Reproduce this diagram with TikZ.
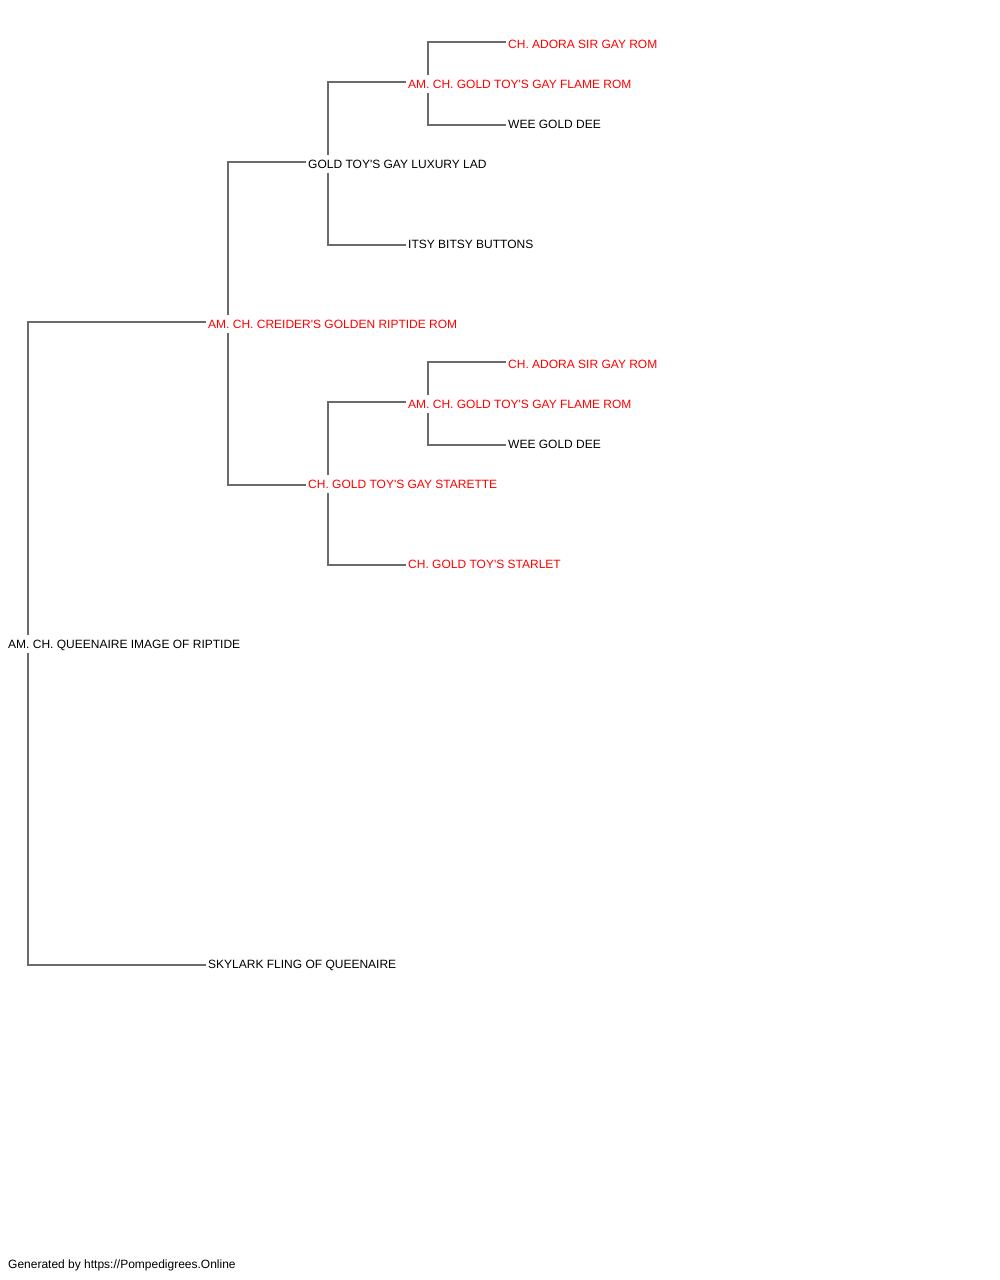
\documentclass[tikz,border=0pt]{standalone}
\usepackage{fontspec}
\setmainfont{Liberation Sans}
\usetikzlibrary{backgrounds}
\newcommand{\ap}{\textquotesingle}
\begin{document}
\begin{tikzpicture}[x=1pt,y=-1pt,
  lbl/.style={anchor=west,fill=white,inner xsep=2pt,inner ysep=0pt,minimum height=18pt,
    text height=8.6pt,text depth=0pt,font=\fontsize{12}{14}\selectfont,text=black},
  redlbl/.style={lbl,text=red},
  conn/.style={draw=black!58,line width=1.1pt}]
\useasboundingbox (0,0) rectangle (1000,1280);
% nodes
\node[lbl] (r) at (6,644) {AM. CH. QUEENAIRE IMAGE OF RIPTIDE};
\node[redlbl] (s) at (206,324) {AM. CH. CREIDER\ap S GOLDEN RIPTIDE ROM};
\node[lbl] (d) at (206,964) {SKYLARK FLING OF QUEENAIRE};
\node[lbl] (ss) at (306,164) {GOLD TOY\ap S GAY LUXURY LAD};
\node[redlbl] (sd) at (306,484) {CH. GOLD TOY\ap S GAY STARETTE};
\node[redlbl] (sss) at (406,84) {AM. CH. GOLD TOY\ap S GAY FLAME ROM};
\node[lbl] (ssd) at (406,244) {ITSY BITSY BUTTONS};
\node[redlbl] (sds) at (406,404) {AM. CH. GOLD TOY\ap S GAY FLAME ROM};
\node[redlbl] (sdd) at (406,564) {CH. GOLD TOY\ap S STARLET};
\node[redlbl] (ssss) at (506,44) {CH. ADORA SIR GAY ROM};
\node[lbl] (sssd) at (506,124) {WEE GOLD DEE};
\node[redlbl] (sdss) at (506,364) {CH. ADORA SIR GAY ROM};
\node[lbl] (sdsd) at (506,444) {WEE GOLD DEE};
\node[anchor=base west,inner sep=0pt,font=\fontsize{12}{14}\selectfont] (foot) at (8,1268.3) {Generated by https://Pompedigrees.Online};
% connectors
\begin{scope}[on background layer]
\draw[conn] ([yshift=2pt]s.west) -| ([xshift=22pt]r.west) |- ([yshift=-1pt]d.west);
\draw[conn] ([yshift=2pt]ss.west) -| ([xshift=22pt]s.west) |- ([yshift=-1pt]sd.west);
\draw[conn] ([yshift=2pt]sss.west) -| ([xshift=22pt]ss.west) |- ([yshift=-1pt]ssd.west);
\draw[conn] ([yshift=2pt]sds.west) -| ([xshift=22pt]sd.west) |- ([yshift=-1pt]sdd.west);
\draw[conn] ([yshift=2pt]ssss.west) -| ([xshift=22pt]sss.west) |- ([yshift=-1pt]sssd.west);
\draw[conn] ([yshift=2pt]sdss.west) -| ([xshift=22pt]sds.west) |- ([yshift=-1pt]sdsd.west);
\end{scope}
\end{tikzpicture}
\end{document}
